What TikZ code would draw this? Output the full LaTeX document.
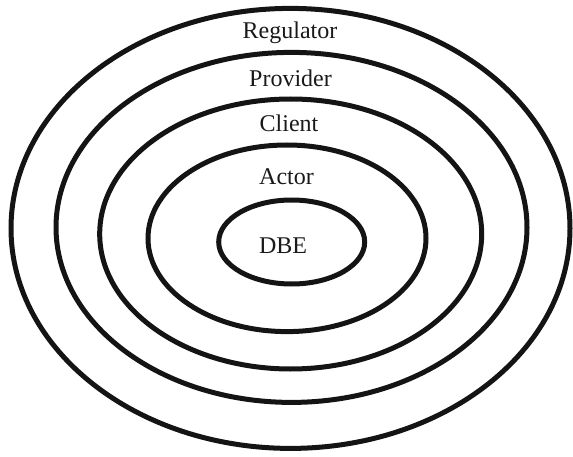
\documentclass[tikz,border=0pt]{standalone}
\usepackage{fontspec}
\setmainfont{Liberation Serif}
\usepackage{tikz}

\begin{document}
\begin{tikzpicture}[x=1pt, y=1pt]
	
	% Styles
	\tikzset{
		ring/.style={draw=black!92, line width=5pt},
		layer/.style={font=\fontsize{24}{28}\selectfont, text=black!90, anchor=base, inner sep=0pt}
	}
	
	\useasboundingbox (0,0) rectangle (573,456);
	
	% Rings, outermost first
	\draw[ring] (290.5,227.6) ellipse [x radius=279.5, y radius=220];
	\draw[ring] (291.5,228.6) ellipse [x radius=235.5, y radius=175];
	\draw[ring] (290.7,222) ellipse [x radius=191, y radius=135];
	\draw[ring] (287,217.7) ellipse [x radius=139, y radius=93.3];
	\draw[ring] (291.7,214) ellipse [x radius=73, y radius=42];
	
	% Layer names
	\node (regulator) [layer] at (290,417.5) {Regulator};
	\node (provider) [layer] at (290.5,369) {Provider};
	\node (client) [layer] at (289,324.3) {Client};
	\node (actor) [layer] at (286.5,271) {Actor};
	\node (dbe) [layer] at (283,203) {DBE};
	
\end{tikzpicture}
\end{document}
